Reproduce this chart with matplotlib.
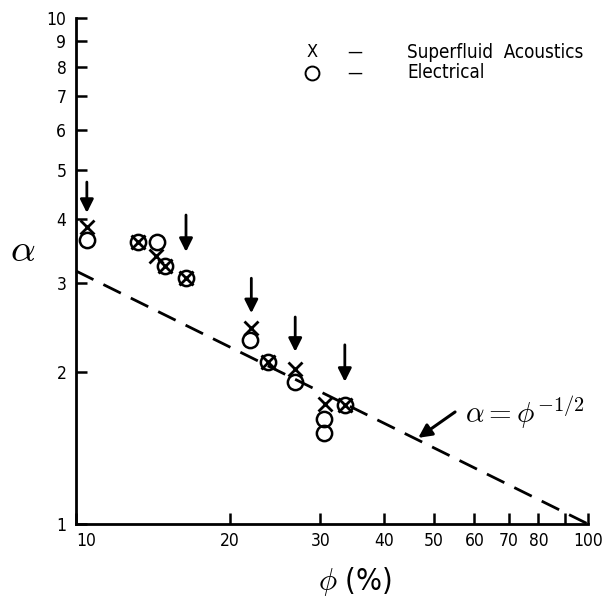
import numpy as np
import matplotlib
matplotlib.use("Agg")
import matplotlib.pyplot as plt
from matplotlib.ticker import FixedLocator, FixedFormatter, NullLocator

plt.rcParams['font.family'] = ['Liberation Sans Narrow', 'DejaVu Sans']
plt.rcParams['font.stretch'] = 'condensed'
plt.rcParams['mathtext.fontset'] = 'cm'

# superfluid acoustics (X) and electrical (O) data, phi in %
phi_sa = [10.5, 13.2, 14.3, 14.9, 16.4, 22.0, 23.7, 26.8, 30.6, 33.5]
alpha_sa = [3.86, 3.61, 3.38, 3.24, 3.07, 2.44, 2.09, 2.02, 1.73, 1.72]
phi_el = [10.5, 13.2, 14.4, 14.9, 16.4, 21.9, 23.7, 26.8, 30.5, 30.5, 33.5]
alpha_el = [3.64, 3.61, 3.61, 3.24, 3.07, 2.31, 2.09, 1.91, 1.61, 1.51, 1.72]

# arrows marking selected samples
arrow_x = [10.5, 16.4, 22.0, 26.8, 33.5]
arrow_tail = [4.74, 4.08, 3.06, 2.565, 2.26]
arrow_tip = [4.12, 3.45, 2.61, 2.19, 1.91]

xticks = [10, 20, 30, 40, 50, 60, 70, 80, 90, 100]
xlabels = ["10", "20", "30", "40", "50", "60", "70", "80", "", "100"]
yticks = [1, 2, 3, 4, 5, 6, 7, 8, 9, 10]

fig = plt.figure(figsize=(6.08, 6.0), dpi=100)
ax = fig.add_axes([76/608, 1 - 524/600, (588-76)/608, (524-18)/600])
ax.set_xscale('log')
ax.set_yscale('log')
ax.set_xlim(10, 100)
ax.set_ylim(1, 10)

# model line alpha = phi^-1/2 (phi as fraction)
phi_line = np.array([10, 100])
ax.plot(phi_line, (phi_line/100.0)**-0.5, color='k', lw=2, ls=(0, (7, 4)), clip_on=False)

ax.plot(phi_el, alpha_el, ls='none', marker='o', ms=11, mfc='none', mec='k', mew=1.8, clip_on=False)
ax.plot(phi_sa, alpha_sa, ls='none', marker='x', ms=10, mec='k', mew=2, clip_on=False)

for x, t, h in zip(arrow_x, arrow_tail, arrow_tip):
    ax.annotate('', xy=(x, h), xytext=(x, t),
                arrowprops=dict(arrowstyle='-|>', color='k', lw=2, mutation_scale=20, shrinkA=0, shrinkB=0))

# label for the line
ax.annotate('', xy=(46.6, 1.48), xytext=(55.0, 1.665),
            arrowprops=dict(arrowstyle='-|>', color='k', lw=2.2, mutation_scale=20, shrinkA=0, shrinkB=0))
fig.text(465/608, 1 - 412/600, r'$\alpha = \phi^{-1/2}$', fontsize=21, ha='left', va='center')

for s in ['top', 'right']:
    ax.spines[s].set_visible(False)
for s in ['left', 'bottom']:
    ax.spines[s].set_linewidth(2)

ax.xaxis.set_major_locator(FixedLocator(xticks))
ax.xaxis.set_major_formatter(FixedFormatter(xlabels))
ax.xaxis.set_minor_locator(NullLocator())
ax.yaxis.set_major_locator(FixedLocator(yticks))
ax.yaxis.set_major_formatter(FixedFormatter([str(v) for v in yticks]))
ax.yaxis.set_minor_locator(NullLocator())
ax.tick_params(direction='in', length=8, width=1.8, labelsize=12.5, pad=6)
ax.tick_params(axis='y', pad=7)
ax.get_xticklabels()[0].set_ha('left')

# legend drawn by hand
fig.text(312/608, 1 - 52/600, 'X', fontsize=13, ha='center', va='center')
fig.text(355/608, 1 - 52/600, '\u2014', fontsize=12, ha='center', va='center')
fig.text(407/608, 1 - 52/600, 'Superfluid  Acoustics', fontsize=13.5, ha='left', va='center')
fig.lines.append(plt.Line2D([312/608], [1 - 73/600], transform=fig.transFigure, marker='o', ms=10,
                            mfc='none', mec='k', mew=1.4))
fig.text(355/608, 1 - 73/600, '\u2014', fontsize=12, ha='center', va='center')
fig.text(407/608, 1 - 73/600, 'Electrical', fontsize=13.5, ha='left', va='center')

fig.text(23/608, 1 - 250/600, r'$\alpha$', fontsize=28, ha='center', va='center')
fig.text(355/608, 1 - 582/600, r'$\phi$ (%)', fontsize=22, ha='center', va='center')

fig.savefig('out.png', dpi=100)
